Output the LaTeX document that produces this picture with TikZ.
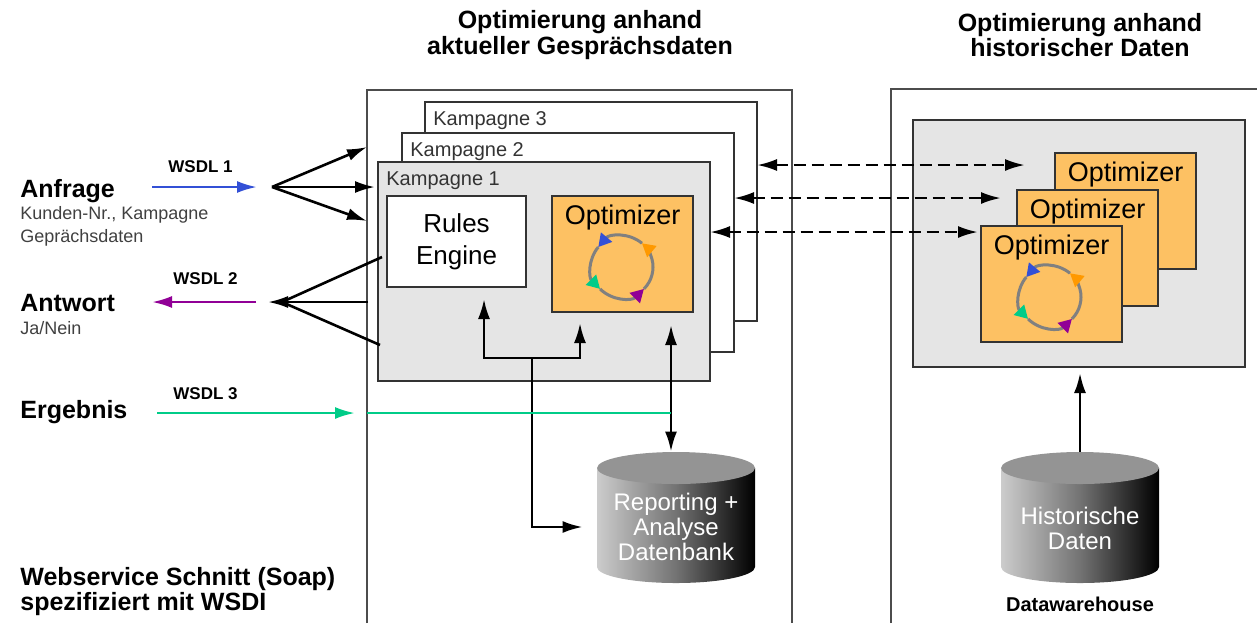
\documentclass[tikz,border=0pt]{standalone}
\usepackage{fontspec}
\setmainfont{Liberation Sans}
\usetikzlibrary{arrows.meta}

\definecolor{optorange}{RGB}{253,193,99}
\definecolor{kampgrau}{RGB}{229,229,229}
\definecolor{wsdlblau}{RGB}{51,80,214}
\definecolor{wsdllila}{RGB}{145,0,150}
\definecolor{wsdlgruen}{RGB}{0,204,136}
\definecolor{zykorange}{RGB}{255,153,0}

\begin{document}
\begin{tikzpicture}[x=0.5pt,y=-0.5pt,
    box/.style={draw=black!80,line width=0.6pt,anchor=north west,inner sep=0pt,outer sep=0pt},
    kampagne/.style={box,fill=white,minimum width=166pt,minimum height=109.5pt,
        label={[anchor=north west,inner sep=0pt,xshift=4pt,yshift=-4.5pt,font=\fontsize{10}{10}\selectfont,text=black!80]north west:#1}},
    optimizer/.style={box,fill=optorange,minimum width=70.5pt,minimum height=58pt,
        label={[anchor=north,inner sep=0pt,yshift=-4.5pt,font=\fontsize{13.5}{13.5}\selectfont]north:Optimizer}},
    panel/.style={draw=black!70,line width=0.7pt},
    pfeil/.style={line width=1.3pt,-{Latex[length=10pt,width=6pt]}},
    doppelpfeil/.style={line width=1.3pt,{Latex[length=10pt,width=6pt]}-{Latex[length=10pt,width=6pt]}},
    strich/.style={doppelpfeil,dash pattern=on 6pt off 3pt},
    gross/.style={font=\bfseries\fontsize{12.5}{12.5}\selectfont,anchor=base west,inner sep=0pt},
    klein/.style={font=\fontsize{9}{9}\selectfont,text=black!75,anchor=base west,inner sep=0pt},
    wsdl/.style={font=\bfseries\fontsize{8.5}{8.5}\selectfont,anchor=base west,inner sep=0pt},
    titel/.style={font=\bfseries\fontsize{12.5}{11.5}\selectfont,align=center,inner sep=0pt},
    dbtext/.style={font=\fontsize{12}{12.5}\selectfont,align=center,text=white,inner sep=0pt},
    dbform/.style={minimum width=79pt,minimum height=65.5pt,inner sep=0pt},
    zyklinie/.style={draw=gray,line width=1.5pt},
    zyklus/.pic={
        \draw[zyklinie,-{Triangle[length=6.5pt,width=7pt,color=wsdllila]}] (135:31) arc[start angle=135,end angle=45,radius=31];
        \draw[zyklinie,-{Triangle[length=6.5pt,width=7pt,color=zykorange]}] (45:31) arc[start angle=45,end angle=-50,radius=31];
        \draw[zyklinie,-{Triangle[length=6.5pt,width=7pt,color=wsdlblau]}] (-50:31) arc[start angle=-50,end angle=-140,radius=31];
        \draw[zyklinie,-{Triangle[length=6.5pt,width=7pt,color=wsdlgruen]}] (-140:31) arc[start angle=-140,end angle=-225,radius=31];
    }
]
\useasboundingbox (0,0) rectangle (1257,623);

% Rahmen
\draw[panel] (367,623) |- (792,90) -- (792,623);
\draw[panel] (891,623) |- (1257,89);

% Kampagnen
\node[kampagne=Kampagne 3] (k3) at (425,102) {};
\node[kampagne=Kampagne 2] (k2) at (402,133) {};
\node[kampagne=Kampagne 1,fill=kampgrau] (k1) at (378,162) {};
\node[box,fill=white,minimum width=69.5pt,minimum height=45.5pt,align=center,
    font=\fontsize{13}{16}\selectfont] (rules) at (387,196) {Rules\\Engine};
\node[optimizer] (optA) at (552,196) {};
\pic at (622,267) {zyklus};

% historische Optimierung
\node[box,fill=kampgrau,minimum width=166pt,minimum height=123.5pt] (grauB) at (913,120) {};
\node[optimizer] (optB3) at (1055,153) {};
\node[optimizer] (optB2) at (1017,190) {};
\node[optimizer] (optB1) at (981,226) {};
\pic at (1050,297) {zyklus};

% Datenbanken
\shade[left color=black!20,right color=black,middle color=black!55] (597,468) -- (597,567)
    arc[start angle=180,end angle=0,x radius=79,y radius=16] -- (755,468) -- cycle;
\fill[black!42] (676,468) ellipse[x radius=79,y radius=16];
\node[dbform] (dbR) at (676,517.5) {};
\node[dbtext] (dbRtext) at (676,527) {Reporting +\\Analyse\\Datenbank};

\shade[left color=black!20,right color=black,middle color=black!55] (1001,468) -- (1001,567)
    arc[start angle=180,end angle=0,x radius=79,y radius=16] -- (1159,468) -- cycle;
\fill[black!42] (1080,468) ellipse[x radius=79,y radius=16];
\node[dbform] (dbH) at (1080,517.5) {};
\node[dbtext] (dbHtext) at (1080,528) {Historische\\Daten};
\node[font=\bfseries\fontsize{10}{10}\selectfont,anchor=base,inner sep=0pt] (dwh) at (1080,611) {Datawarehouse};

% Verbindungen innen
\coordinate (knoten) at (532,358);
\coordinate (optdb) at ([xshift=-2.5pt]dbR.north);
\draw[pfeil] (knoten) -| ([xshift=13.75pt,yshift=-6pt]rules.south);
\draw[pfeil] (knoten) -| ([xshift=-21.25pt,yshift=-5.5pt]optA.south);
\draw[pfeil] (knoten) |- ([xshift=-7pt,yshift=-4.75pt]dbR.west);
\draw[doppelpfeil] ([xshift=24.25pt,yshift=-6.5pt]optA.south) -- (optdb);
\draw[pfeil,shorten >=3pt] (dbH.north) -- (dbH.north |- grauB.south);

\coordinate (d1) at (1025,165);
\coordinate (d2) at (1001,198);
\coordinate (d3) at (978,232);
\draw[strich] (k3.east |- d1) -- (d1);
\draw[strich] (k2.east |- d2) -- (d2);
\draw[strich] (k1.east |- d3) -- (d3);

% Webservice links
\coordinate (fanA) at (272,187);
\coordinate (fanA1) at (367,147);
\coordinate (fanA3) at (367,221);
\draw[pfeil] (fanA) -- (fanA1);
\draw[pfeil,shorten >=1.5pt] (fanA) -- (k1.west |- fanA);
\draw[pfeil] (fanA) -- (fanA3);

\coordinate (fanB) at (268,302);
\coordinate (fanB1) at (382,257);
\coordinate (fanB2) at (368,302);
\coordinate (fanB3) at (380,345);
\draw[line width=1.3pt] (fanB1) -- ([xshift=7pt]fanB) -- (fanB3);
\draw[pfeil] (fanB2) -- (fanB);

\coordinate (blauA) at (152,187);
\coordinate (blauB) at (257,187);
\draw[pfeil,wsdlblau] (blauA) -- (blauB);
\coordinate (lilaA) at (256,302);
\coordinate (lilaB) at (152,302);
\draw[pfeil,wsdllila] (lilaA) -- (lilaB);
\coordinate (gruenA) at (157,413);
\coordinate (gruenB) at (355,413);
\coordinate (gruenC) at (367,413);
\draw[pfeil,wsdlgruen] (gruenA) -- (gruenB);
\draw[wsdlgruen,line width=1.3pt] (gruenC) -- (gruenC -| optdb);

% Texte
\node[titel] (titelA) at (580,35) {Optimierung anhand\\aktueller Gesprächsdaten};
\node[titel] (titelB) at (1080,35) {Optimierung anhand\\historischer Daten};
\node[gross] (anfrage) at (20,197) {Anfrage};
\node[klein] (kunden) at (20,219) {Kunden-Nr., Kampagne};
\node[klein] (gespraech) at (20,242) {Geprächsdaten};
\node[gross] (antwort) at (20,311) {Antwort};
\node[klein] (janein) at (20,334) {Ja/Nein};
\node[gross] (ergebnis) at (20,418) {Ergebnis};
\node[wsdl] (wsdl1) at (168,172) {WSDL 1};
\node[wsdl] (wsdl2) at (173,284) {WSDL 2};
\node[wsdl] (wsdl3) at (173,399) {WSDL 3};
\node[gross] (webservice) at (20,585) {Webservice Schnitt (Soap)};
\node[gross] (wsdi) at (20,610) {spezifiziert mit WSDI};
\end{tikzpicture}
\end{document}
